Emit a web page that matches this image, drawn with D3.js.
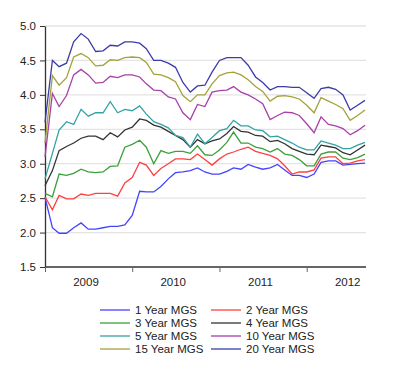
<!DOCTYPE html>
<html>
<head>
<meta charset="utf-8">
<script src="https://cdn.jsdelivr.net/npm/d3@7"></script>
<style>
  body { margin: 0; background: #fff; }
  svg text { font-family: "Liberation Sans", Arial, sans-serif; fill: #222; }
</style>
</head>
<body>
<div id="chart"></div>
<script>
const months = [
  "2009-01","2009-02","2009-03","2009-04","2009-05","2009-06","2009-07","2009-08","2009-09","2009-10","2009-11","2009-12",
  "2010-01","2010-02","2010-03","2010-04","2010-05","2010-06","2010-07","2010-08","2010-09","2010-10","2010-11","2010-12",
  "2011-01","2011-02","2011-03","2011-04","2011-05","2011-06","2011-07","2011-08","2011-09","2011-10","2011-11","2011-12",
  "2012-01","2012-02","2012-03","2012-04","2012-05","2012-06","2012-07","2012-08","2012-09"
];

const seriesNames = ["1 Year MGS", "2 Year MGS", "3 Year MGS", "4 Year MGS",
  "5 Year MGS", "10 Year MGS", "15 Year MGS", "20 Year MGS"];
const seriesColors = ["#4444ff", "#ff4040", "#3ca03c", "#333333",
  "#33a3a3", "#a840a8", "#a3a33a", "#3c3ca8"];

const y1 = [2.51,2.07,1.99,1.99,2.07,2.14,2.05,2.05,2.07,2.09,2.09,2.11,
  2.25,2.60,2.59,2.59,2.67,2.78,2.87,2.88,2.90,2.94,2.88,2.85,
  2.85,2.89,2.94,2.92,2.99,2.95,2.92,2.94,2.99,2.91,2.83,2.83,
  2.80,2.85,3.02,3.04,3.04,2.98,2.99,3.00,3.01];
const y2 = [2.52,2.33,2.54,2.49,2.49,2.56,2.54,2.57,2.57,2.57,2.53,2.72,
  2.80,3.02,2.98,2.83,2.93,3.00,3.07,3.07,3.06,3.14,3.06,2.98,
  3.07,3.14,3.17,3.21,3.24,3.18,3.15,3.12,3.07,2.97,2.85,2.88,
  2.88,2.91,3.08,3.10,3.10,3.00,3.01,3.04,3.06];
const y3 = [2.57,2.52,2.85,2.83,2.86,2.92,2.88,2.87,2.88,2.96,2.97,3.24,
  3.28,3.34,3.24,3.00,3.19,3.15,3.18,3.18,3.15,3.26,3.13,3.12,
  3.20,3.31,3.46,3.30,3.30,3.24,3.22,3.17,3.22,3.14,3.12,3.06,
  2.97,2.97,3.14,3.17,3.17,3.08,3.06,3.09,3.14];
const y4 = [2.68,2.90,3.19,3.25,3.30,3.37,3.40,3.40,3.35,3.45,3.39,3.49,
  3.53,3.65,3.63,3.56,3.53,3.47,3.41,3.35,3.24,3.35,3.29,3.33,
  3.36,3.44,3.54,3.47,3.46,3.41,3.40,3.32,3.34,3.29,3.22,3.18,
  3.14,3.13,3.27,3.25,3.23,3.16,3.13,3.20,3.27];
const y5 = [2.78,3.15,3.49,3.61,3.57,3.79,3.69,3.74,3.74,3.90,3.74,3.79,
  3.77,3.84,3.72,3.61,3.57,3.52,3.41,3.38,3.24,3.43,3.29,3.38,
  3.48,3.51,3.63,3.55,3.55,3.49,3.48,3.39,3.40,3.35,3.30,3.24,
  3.20,3.20,3.33,3.30,3.27,3.22,3.22,3.27,3.31];
const y10 = [3.10,4.02,3.83,3.99,4.29,4.37,4.29,4.17,4.18,4.27,4.25,4.29,
  4.29,4.26,4.16,4.07,4.06,3.97,3.94,3.74,3.64,3.86,3.83,4.04,
  4.06,4.07,4.12,4.04,4.00,3.94,3.87,3.64,3.70,3.75,3.74,3.70,
  3.58,3.45,3.68,3.57,3.55,3.51,3.42,3.48,3.56];
const y15 = [3.30,4.28,4.14,4.25,4.55,4.60,4.54,4.42,4.43,4.51,4.50,4.54,
  4.55,4.54,4.47,4.30,4.29,4.25,4.19,3.99,3.90,4.00,4.00,4.16,
  4.28,4.32,4.33,4.29,4.22,4.12,4.05,3.91,3.98,3.99,3.97,3.94,
  3.85,3.74,3.96,3.91,3.86,3.80,3.63,3.70,3.78];
const y20 = [3.60,4.50,4.41,4.46,4.77,4.89,4.81,4.63,4.64,4.72,4.71,4.77,
  4.77,4.75,4.67,4.50,4.50,4.46,4.40,4.18,4.04,4.13,4.14,4.33,
  4.50,4.54,4.54,4.54,4.43,4.26,4.18,4.07,4.12,4.12,4.11,4.11,
  4.03,3.95,4.09,4.11,4.08,4.00,3.78,3.85,3.92];

const yTicks = [1.5, 2.0, 2.5, 3.0, 3.5, 4.0, 4.5, 5.0];
const yearLabels = [2009, 2010, 2011, 2012];

const allSeries = [y1, y2, y3, y4, y5, y10, y15, y20];

const width = 400, height = 381;
const plotLeft = 45, plotRight = 366, plotTop = 26, plotBottom = 267;

const parse = d3.timeParse("%Y-%m");
const dates = months.map(parse);

const svg = d3.select("#chart").append("svg")
  .attr("width", width)
  .attr("height", height);

const x = d3.scaleTime()
  .domain([dates[0], dates[dates.length - 1]])
  .range([plotLeft, plotRight - 1]);

const y = d3.scaleLinear()
  .domain([1.5, 5.0])
  .range([plotBottom, plotTop]);

// grid lines
svg.append("g")
  .selectAll("line")
  .data(yTicks.slice(1))
  .enter()
  .append("line")
  .attr("x1", plotLeft)
  .attr("x2", plotRight)
  .attr("y1", d => y(d))
  .attr("y2", d => y(d))
  .attr("stroke", "#e4e4e4")
  .attr("stroke-width", 1.3);

// y axis
const yAxis = d3.axisLeft(y)
  .tickValues(yTicks)
  .tickFormat(d3.format(".1f"))
  .tickSize(5)
  .tickPadding(4)
  .tickSizeOuter(0);

const gy = svg.append("g")
  .attr("transform", `translate(${plotLeft},0)`)
  .call(yAxis);
gy.select(".domain").attr("stroke", "#333").attr("stroke-width", 1.3);
gy.selectAll(".tick line").attr("stroke", "#333");
gy.selectAll("text").style("font-size", "11.5px").attr("fill", "#222");

// x axis
const yearStarts = yearLabels.map(yr => new Date(yr, 0, 1));
const xAxis = d3.axisBottom(x)
  .tickValues(yearStarts)
  .tickFormat("")
  .tickSize(5)
  .tickSizeOuter(0);

const gx = svg.append("g")
  .attr("transform", `translate(0,${plotBottom})`)
  .call(xAxis);
gx.select(".domain").attr("d", `M${plotLeft},0H${plotRight}`).attr("stroke", "#333").attr("stroke-width", 1.3);
gx.selectAll(".tick line").attr("stroke", "#666");

svg.append("g")
  .selectAll("text")
  .data(yearLabels)
  .enter()
  .append("text")
  .attr("x", d => x(new Date(d, 0, 1)) + 41)
  .attr("y", plotBottom + 19)
  .attr("text-anchor", "middle")
  .style("font-size", "11.5px")
  .text(d => d);

// lines
const line = d3.line()
  .x((d, i) => x(dates[i]))
  .y(d => y(d));

svg.append("g")
  .selectAll("path")
  .data(allSeries)
  .enter()
  .append("path")
  .attr("d", d => line(d))
  .attr("fill", "none")
  .attr("stroke", (d, i) => seriesColors[i])
  .attr("stroke-width", 1.3);

// legend
const legend = svg.append("g");
seriesNames.forEach((name, i) => {
  const col = i % 2, row = Math.floor(i / 2);
  const lx = col === 0 ? 100 : 211;
  const ly = 310 + row * 13;
  legend.append("line")
    .attr("x1", lx).attr("x2", lx + 30)
    .attr("y1", ly).attr("y2", ly)
    .attr("stroke", seriesColors[i])
    .attr("stroke-width", 1.3);
  legend.append("text")
    .attr("x", lx + 35)
    .attr("y", ly + 4)
    .style("font-size", "11.5px")
    .text(name);
});
</script>
</body>
</html>
